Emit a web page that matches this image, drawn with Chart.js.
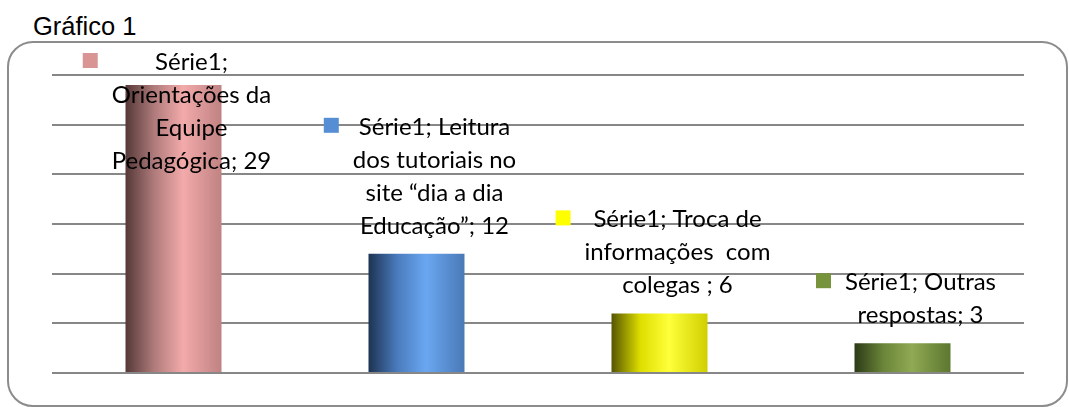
<!DOCTYPE html>
<html>
<head>
<meta charset="utf-8">
<script src="https://cdn.jsdelivr.net/npm/chart.js@4/dist/chart.umd.min.js"></script>
<style>
  body { margin: 0; background: #fff; }
  #wrap { position: relative; width: 1069px; height: 407px; }
  #title { position: absolute; left: 33px; top: 13px; font: 25.5px/26px "Liberation Sans", Arial, sans-serif; color: #000; }
  #box { position: absolute; left: 7px; top: 41px; width: 1057px; height: 362px; border: 2px solid #8c8c8c; border-radius: 26px; }
  #chart { position: absolute; left: 0; top: 0; }
</style>
</head>
<body>
<div id="wrap">
  <div id="title">Gráfico 1</div>
  <div id="box"></div>
  <canvas id="chart" width="1069" height="407"></canvas>
</div>
<script>
// data
const categories = [
    "Orientações da Equipe Pedagógica",
    "Leitura dos tutoriais no site “dia a dia Educação”",
    "Troca de informações  com colegas ",
    "Outras respostas"
];
const values = [29, 12, 6, 3];
const seriesName = "Série1";
// line breaks of each data label, as in the original
const labelLines = [
    ["Série1;", "Orientações da", "Equipe", "Pedagógica; 29"],
    ["Série1; Leitura", "dos tutoriais no", "site “dia a dia", "Educação”; 12"],
    ["Série1; Troca de", "informações  com", "colegas ; 6"],
    ["Série1; Outras", "respostas; 3"]
];
const keyColors = ["#d99594", "#558ed5", "#ffff00", "#77933c"];
// gradient stops for each bar: left, 30%, 60%, right
const barStops = [
    ["#553838", "#b07b7b", "#f3aaaa", "#c08282"],
    ["#1d3352", "#4a7bbd", "#6aa7f1", "#4a79b6"],
    ["#555500", "#dede00", "#ffff3a", "#cfcf00"],
    ["#2c3a17", "#6a8538", "#8fa954", "#5c772f"]
];

const barPct = 0.395;

function barGradient(context) {
    const chart = context.chart;
    const xs = chart.scales.x;
    if (!chart.chartArea || !xs) return keyColors[context.dataIndex];
    const i = context.dataIndex;
    const cx = xs.getPixelForValue(i);
    const w = (xs.width / categories.length) * barPct;
    const g = chart.ctx.createLinearGradient(cx - w / 2, 0, cx + w / 2, 0);
    const s = barStops[i];
    g.addColorStop(0, s[0]);
    g.addColorStop(0.3, s[1]);
    g.addColorStop(0.6, s[2]);
    g.addColorStop(1, s[3]);
    return g;
}

// data labels with legend key, drawn above each bar
const labelPlugin = {
    id: 'keyLabels',
    afterDatasetsDraw(chart) {
        const ctx = chart.ctx;
        const meta = chart.getDatasetMeta(0);
        const lh = 33;
        const key = 15, gap = 21;
        ctx.save();
        ctx.font = '24px Lato, "Open Sans", sans-serif';
        ctx.fillStyle = '#000';
        ctx.textAlign = 'center';
        ctx.textBaseline = 'alphabetic';
        meta.data.forEach((bar, i) => {
            const lines = labelLines[i];
            let lastBase = bar.y - 20;
            let firstBase = lastBase - lh * (lines.length - 1);
            if (firstBase < 70) firstBase = 70;
            const tx = bar.x + (key + gap) / 2;
            const maxW = Math.max(...lines.map(l => ctx.measureText(l).width));
            lines.forEach((l, j) => ctx.fillText(l, tx, firstBase + j * lh));
            const kx = tx - maxW / 2 - gap - key + 7;
            ctx.fillStyle = keyColors[i];
            ctx.fillRect(kx, firstBase - 17, key, key);
            ctx.fillStyle = '#000';
        });
        ctx.restore();
    }
};

new Chart(document.getElementById("chart").getContext("2d"), {
    type: 'bar',
    data: {
        labels: categories,
        datasets: [{
            label: seriesName,
            data: values,
            backgroundColor: barGradient,
            borderWidth: 0,
            barPercentage: barPct,
            categoryPercentage: 1
        }]
    },
    options: {
        responsive: false,
        animation: false,
        layout: { padding: { left: 52, right: 45, top: 75, bottom: 34 } },
        plugins: {
            legend: { display: false },
            tooltip: { enabled: false }
        },
        scales: {
            x: { display: false },
            y: {
                min: 0,
                max: 30,
                ticks: { display: false, stepSize: 5 },
                border: { display: false },
                grid: { color: '#878787', lineWidth: 2, drawTicks: false, tickLength: 0 }
            }
        }
    },
    plugins: [labelPlugin]
});
</script>
</body>
</html>
